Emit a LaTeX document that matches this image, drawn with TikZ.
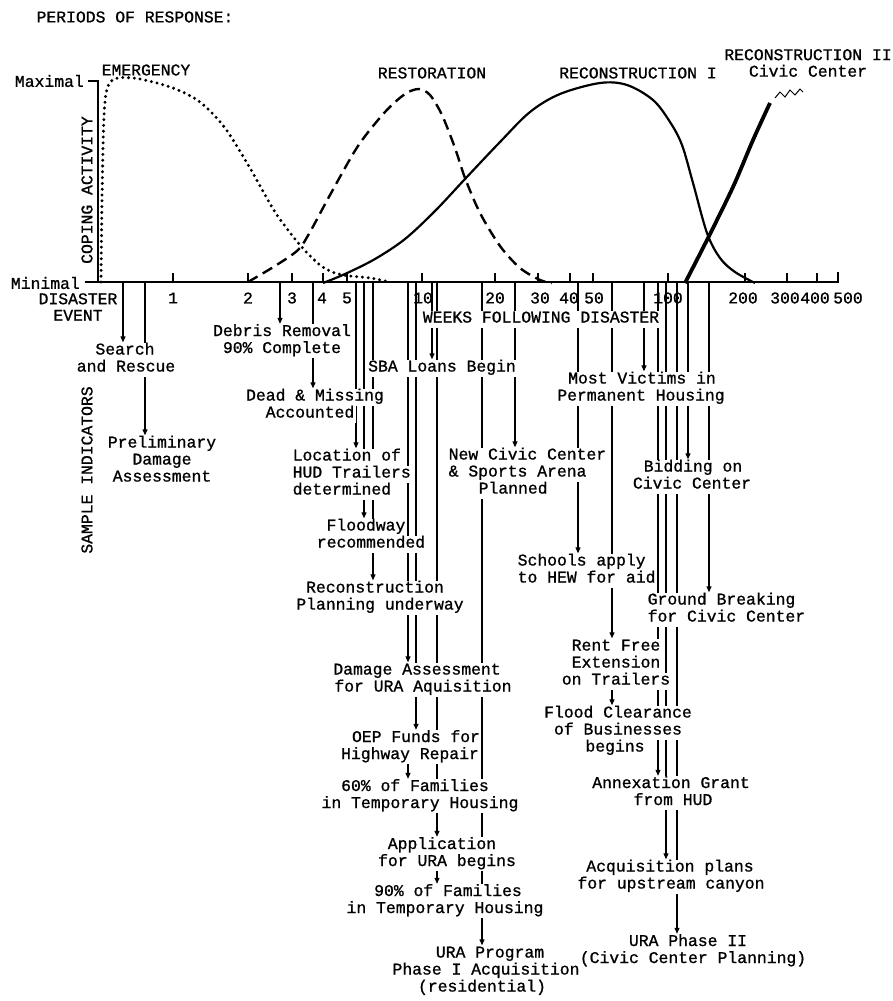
\documentclass[tikz,border=0pt]{standalone}
\usepackage{fontspec}
\setmainfont{Liberation Mono}
\newfontfamily\twf{Liberation Mono}[FakeBold=1]
\usetikzlibrary{arrows.meta,backgrounds}
\tikzset{
  every node/.style={font=\twf\fontsize{16.4}{16.5}\selectfont, inner sep=0pt},
  row/.style={fill=white, inner xsep=1.5pt, inner ysep=0pt, text height=12pt, text depth=5pt},
  wrow/.style={row, anchor=west},
  ev/.style={line width=1.2pt},
  arr/.style={ev, -{Triangle[length=6pt,width=5pt]}},
  axisline/.style={line width=2pt},
  tickline/.style={line width=1.5pt},
  emcurve/.style={line width=3.3pt, line cap=round, dash pattern=on 0pt off 5.8pt},
  rescurve/.style={line width=2.4pt, dash pattern=on 11pt off 6pt},
  rc1curve/.style={line width=2.2pt},
  rc2curve/.style={line width=3.8pt},
}
\begin{document}
\begin{tikzpicture}[x=1pt,y=-1pt]
\useasboundingbox (0,0) rectangle (892,1001);

% titles and axis labels
\node (title) at (135,17) {PERIODS OF RESPONSE:};
\node (emg) at (146,70) {EMERGENCY};
\node (rest) at (432,73) {RESTORATION};
\node (rec1) at (638,73) {RECONSTRUCTION I};
\node[align=center] (rec2) at (808,63) {RECONSTRUCTION II\\Civic Center};
\node[anchor=east] (maxl) at (84,81) {Maximal};
\node[anchor=east] (minl) at (80,283) {Minimal};
\node[align=center] (dis) at (78,307) {DISASTER\\EVENT};
\node[rotate=90] (coping) at (87,190) {COPING ACTIVITY};
\node[rotate=90] (sample) at (87,470) {SAMPLE INDICATORS};

\foreach \x/\t in {173/1,248/2,292/3,322/4,347/5,423/10,495/20,540/30,569/40,594/50,668/100,743/200,785/300,815/400,848/500}
  \node (n\t) at (\x,298) {\t};

% event nodes, one white-backed node per printed line
\node[row] (search) at (125,351) {Search};
\node[row] (search2) at (126,368) {and Rescue};
\node[row] (prelim) at (162,444) {Preliminary};
\node[row] (prelim2) at (162,461) {Damage};
\node[row] (prelim3) at (162,478) {Assessment};
\node[row] (debris) at (282,332.5) {Debris Removal};
\node[row] (debris2) at (282,349.5) {90\% Complete};
\node[row] (dead) at (315,397) {Dead \& Missing};
\node[row] (dead2) at (310,414) {Accounted};
\node[wrow] (loc) at (291,457) {Location of};
\node[wrow] (loc2) at (291,474) {HUD Trailers};
\node[wrow] (loc3) at (291,491) {determined};
\node[row] (flood) at (366,527) {Floodway};
\node[row] (flood2) at (371,544) {recommended};
\node[row] (recon) at (375,589) {Reconstruction};
\node[row] (recon2) at (380,606) {Planning underway};
\node[row] (da) at (417,671) {Damage Assessment};
\node[row] (da2) at (423,688) {for URA Aquisition};
\node[row] (oep) at (416,738.5) {OEP Funds for};
\node[row] (oep2) at (410,755.5) {Highway Repair};
\node[row] (f60) at (415,787.5) {60\% of Families};
\node[row] (f602) at (420,804.5) {in Temporary Housing};
\node[row] (app) at (442,845.5) {Application};
\node[row] (app2) at (447,862.5) {for URA begins};
\node[row] (f90) at (448,892.5) {90\% of Families};
\node[row] (f902) at (445,909.5) {in Temporary Housing};
\node[row] (ura1) at (490,954) {URA Program};
\node[row] (ura12) at (486,971) {Phase I Acquisition};
\node[row] (ura13) at (482,988) {(residential)};
\node[row] (sba) at (442,368) {SBA Loans Begin};
\node[row] (weeks) at (541,319) {WEEKS FOLLOWING DISASTER};
\node[wrow] (civic) at (447,456) {New Civic Center};
\node[wrow] (civic2) at (447,473) {\& Sports Arena};
\node[wrow] (civic3) at (477,490) {Planned};
\node[row] (victims) at (642,380) {Most Victims in};
\node[row] (victims2) at (641,397) {Permanent Housing};
\node[wrow] (schools) at (516,562) {Schools apply};
\node[wrow] (schools2) at (516,579) {to HEW for aid};
\node[row] (rent) at (616,647) {Rent Free};
\node[row] (rent2) at (616,664) {Extension};
\node[row] (rent3) at (616,681) {on Trailers};
\node[row] (fclear) at (618,714) {Flood Clearance};
\node[row] (fclear2) at (618,731) {of Businesses};
\node[row] (fclear3) at (615,748) {begins};
\node[row] (bid) at (693,468) {Bidding on};
\node[row] (bid2) at (692,485) {Civic Center};
\node[wrow] (ground) at (646,601) {Ground Breaking};
\node[wrow] (ground2) at (646,618) {for Civic Center};
\node[row] (annex) at (671,784.5) {Annexation Grant};
\node[row] (annex2) at (673,801.5) {from HUD};
\node[row] (acq) at (670,868) {Acquisition plans};
\node[row] (acq2) at (671,885) {for upstream canyon};
\node[row] (ura2) at (688,942.5) {URA Phase II};
\node[row] (ura22) at (693,959.5) {(Civic Center Planning)};

\foreach \x in {123,145,280,313,356,364,373,408,416,432,437,482,515,578,612,644,658,666,677,688,709}
  \coordinate (a\x) at (\x,282);
\coordinate (mx) at (88,81);
\coordinate (orig) at (98,282);
\coordinate (minend) at (85,282);
\coordinate (axend) at (838,282);

\begin{pgfonlayer}{background}
  % axes
  \draw[axisline] (mx) -- (98,81) -- (orig);
  \draw[axisline] (minend) -- (axend) -- ++(0,-10);
  \foreach \x in {173,248,292,323,347,422,495,538,570,593,668,745,787,817}
    \draw[tickline] (\x,282) -- (\x,273);
  % connectors from the time axis
  \draw[arr] (a123) -- (a123 |- search.north);
  \draw[arr] (a145) -- (a145 |- prelim.north);
  \draw[arr] (a280) -- (a280 |- debris.north);
  \draw[arr] (a313) -- (a313 |- dead.north);
  \draw[arr] (a356) -- (a356 |- loc.north);
  \draw[arr] (a364) -- (a364 |- flood.north);
  \draw[arr] (a373) -- (a373 |- recon.north);
  \draw[arr] (a408) -- (a408 |- da.north);
  \draw[arr] (a416) -- (a416 |- oep.north);
  \draw[arr] (a432) -- (a432 |- sba.north);
  \draw[arr] (a437) -- (a437 |- app.north);
  \draw[arr] (a482) -- (a482 |- ura1.north);
  \draw[arr] (a515) -- (a515 |- civic.north);
  \draw[arr] (a578) -- (a578 |- schools.north);
  \draw[arr] (a612) -- (a612 |- rent.north);
  \draw[arr] (a644) -- (a644 |- victims.north);
  \draw[arr] (a658) -- (a658 |- annex.north);
  \draw[arr] (a666) -- (a666 |- acq.north);
  \draw[arr] (a677) -- (a677 |- ura2.north);
  \draw[arr] (a688) -- (a688 |- bid.north);
  \draw[arr] (a709) -- (a709 |- ground.north);
  % node to node
  \draw[arr] (a612 |- rent3.south) -- (a612 |- fclear.north);
  \draw[arr] (a408 |- oep2.south) -- (a408 |- f60.north);
  \draw[arr] (a437 |- app2.south) -- (a437 |- f90.north);
\end{pgfonlayer}

% response curves
\draw[emcurve] plot[smooth, tension=0.5] coordinates {(101,282) (102,200) (104,115) (108,86) (118,78) (140,79) (173,88) (200,102) (225,128) (250,168) (275,212) (300,245) (320,265) (335,273) (350,276) (370,278) (390,282)};
\draw[rescurve] plot[smooth, tension=0.5] coordinates {(248,282) (275,266) (298,250) (310,232) (330,195) (358,146) (385,112) (405,94) (419,89) (430,95) (442,115) (455,148) (465,178) (480,213) (500,246) (520,268) (540,280) (552,283)};
\draw[rc1curve] plot[smooth, tension=0.55] coordinates {(323,283) (345,274) (375,259) (405,239) (435,211) (465,179) (500,142) (530,112) (560,94) (600,83) (627,85) (653,100) (670,122) (682,145) (693,183) (707,233) (720,258) (735,272) (755,283)};
\draw[rc2curve] plot[smooth, tension=0.5] coordinates {(685,283) (707,240) (733,187) (753,140) (770,103)};
\draw[line width=1pt] (775,98) -- (780,92) -- (785,97) -- (790,90) -- (795,95) -- (800,89) -- (803,92);
\end{tikzpicture}
\end{document}
